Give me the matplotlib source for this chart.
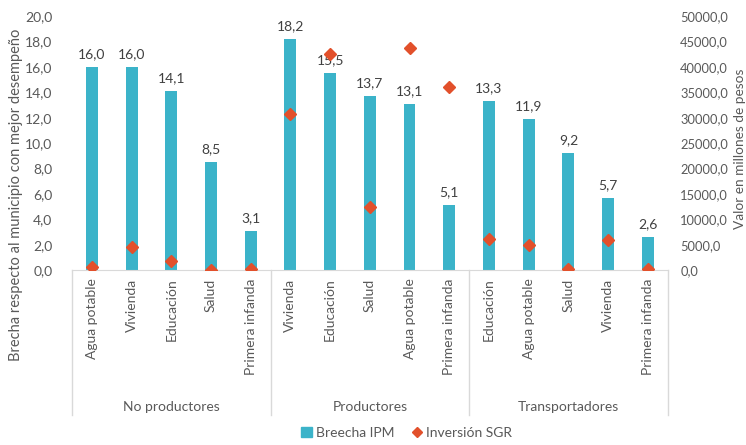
import numpy as np
import matplotlib.pyplot as plt
from matplotlib.ticker import FuncFormatter
from matplotlib.lines import Line2D
from matplotlib.patches import Patch

plt.rcParams['font.family'] = ['Lato', 'DejaVu Sans']

groups = ['No productores', 'Productores', 'Transportadores']
categories = ['Agua potable', 'Vivienda', 'Educación', 'Salud', 'Primera infanda',
              'Vivienda', 'Educación', 'Salud', 'Agua potable', 'Primera infanda',
              'Educación', 'Agua potable', 'Salud', 'Vivienda', 'Primera infanda']
brecha_ipm = [16.0, 16.0, 14.1, 8.5, 3.1,
              18.2, 15.5, 13.7, 13.1, 5.1,
              13.3, 11.9, 9.2, 5.7, 2.6]
inversion_sgr = [700, 4500, 1800, 0, 200,
                 30700, 42500, 12400, 43700, 36000,
                 6100, 4900, 200, 5900, 200]

teal = '#3BB3C9'
red = '#E2502B'
gray = '#595959'
line_gray = '#D9D9D9'

fig = plt.figure(figsize=(7.46, 4.45), dpi=100)
ax = fig.add_axes([0.0965, 0.393, 0.7985, 0.571])
ax2 = ax.twinx()

x = np.arange(len(categories))
ax.bar(x, brecha_ipm, width=0.3, color=teal, zorder=2)
for xi, v in zip(x, brecha_ipm):
    ax.annotate(f'{v:.1f}'.replace('.', ','), (xi, v), xytext=(0, 5),
                textcoords='offset points', ha='center', va='bottom',
                fontsize=10, color='#404040')

ax2.plot(x, inversion_sgr, linestyle='none', marker='D', markersize=6,
         color=red, zorder=3)

ax.set_xlim(-0.5, len(categories) - 0.5)
ax.set_ylim(0, 20)
ax2.set_ylim(0, 50000)
ax.set_yticks(np.arange(0, 21, 2))
ax2.set_yticks(np.arange(0, 50001, 5000))
fmt = FuncFormatter(lambda v, p: f'{v:.1f}'.replace('.', ','))
ax.yaxis.set_major_formatter(fmt)
ax2.yaxis.set_major_formatter(fmt)

ax.set_xticks(x)
ax.set_xticklabels(categories, rotation=90, va='top', ha='center')
ax.tick_params(axis='x', length=0, pad=6, labelsize=10, colors=gray)
ax.tick_params(axis='y', length=0, pad=14, labelsize=10, colors=gray)
ax2.tick_params(axis='y', length=0, pad=9, labelsize=9.3, colors=gray)

for a in (ax, ax2):
    for s in a.spines.values():
        s.set_visible(False)
ax.spines['bottom'].set_visible(True)
ax.spines['bottom'].set_color(line_gray)

# group separators and group names
trans = ax.get_xaxis_transform()
for xs in [-0.5, 4.5, 9.5, 14.5]:
    ax.plot([xs, xs], [0, -0.571], transform=trans, color=line_gray,
            lw=1, clip_on=False)
for i, g in enumerate(groups):
    ax.text(i * 5 + 2, -0.539, g, transform=trans, ha='center', va='center',
            fontsize=10, color=gray)

fig.text(0.021, 0.562, 'Brecha respecto al municipio con mejor desempeño',
         rotation=90, ha='center', va='center', fontsize=10.5, color=gray)
fig.text(0.9915, 0.665, 'Valor en millones de pesos', rotation=90,
         ha='center', va='center', fontsize=9.8, color=gray)

handles = [Patch(color=teal, label='Breecha IPM'),
           Line2D([], [], linestyle='none', marker='D', markersize=5,
                  color=red, label='Inversión SGR')]
leg = fig.legend(handles=handles, loc='center', bbox_to_anchor=(0.545, 0.027),
                 ncol=2, frameon=False, fontsize=10, handlelength=0.8,
                 handletextpad=0.3, columnspacing=1.2)
for t in leg.get_texts():
    t.set_color(gray)

fig.savefig('out.png', dpi=100)
